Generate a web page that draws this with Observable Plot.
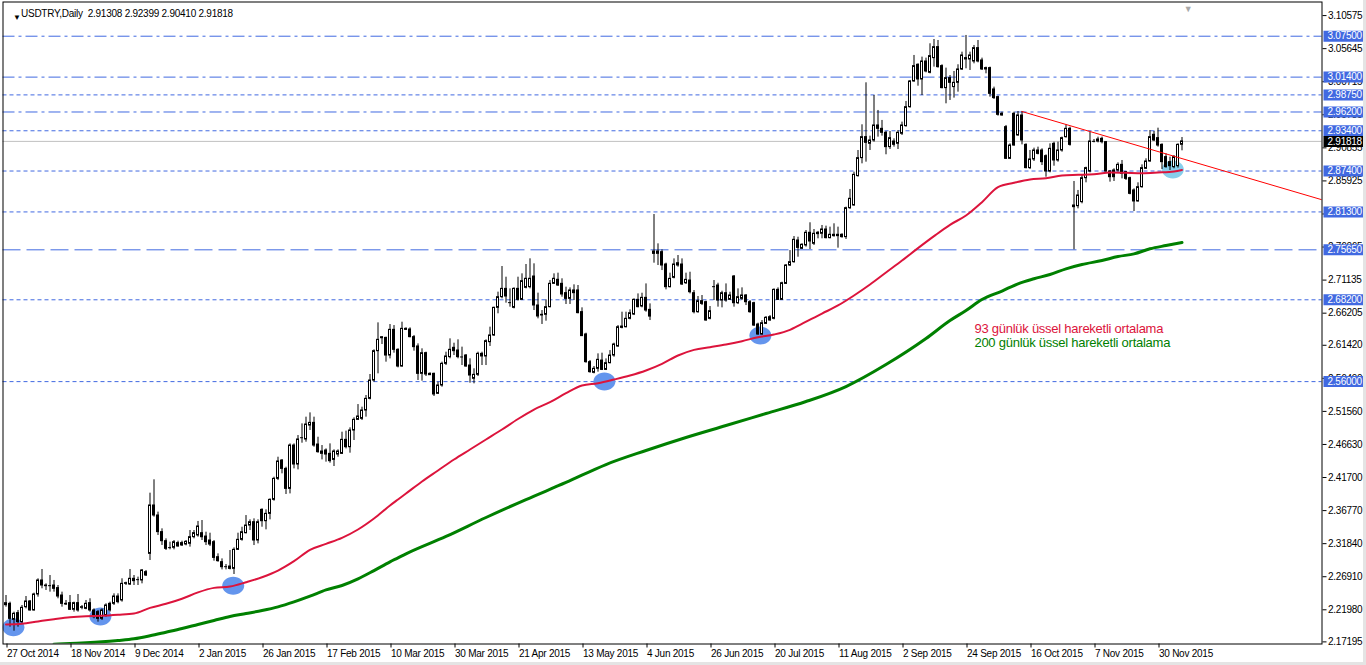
<!DOCTYPE html>
<html>
<head>
<meta charset="utf-8">
<script src="https://cdn.jsdelivr.net/npm/d3@7"></script>
<script src="https://cdn.jsdelivr.net/npm/@observablehq/plot@0.6"></script>
<style>
html,body{margin:0;padding:0;background:#e4e4e4;}
#chart{position:relative;width:1363px;height:662px;background:#fff;overflow:hidden;}
#chart svg{display:block;}
</style>
</head>
<body>
<div id="chart"></div>
<script>
// ---- Candles (bar index 0..294), USDTRY daily ----
const open = [2.2267,2.2287,2.2048,2.2148,2.2014,2.2237,2.2322,2.2188,2.2426,2.2635,
2.2560,2.2560,2.2560,2.2521,2.2411,2.2287,2.2297,2.2198,2.2297,2.2227,
2.2212,2.2297,2.2188,2.2163,2.2063,2.2113,2.2287,2.2287,2.2396,2.2337,
2.2585,2.2575,2.2660,2.2645,2.2635,2.2759,2.3032,2.3753,2.3604,2.3356,
2.3221,2.3122,2.3122,2.3192,2.3192,2.3172,2.3182,2.3281,2.3306,2.3340,
2.3290,2.3231,2.3206,2.2982,2.2908,2.2843,2.2843,2.2808,2.3092,2.3241,
2.3340,2.3454,2.3504,2.3231,2.3688,2.3519,2.3628,2.3837,2.4150,2.4423,
2.4299,2.4001,2.4647,2.4364,2.4761,2.4737,2.4945,2.4985,2.4662,2.4523,
2.4573,2.4523,2.4433,2.4513,2.4523,2.4732,2.4622,2.4871,2.5030,2.5045,
2.5169,2.5343,2.5616,2.6054,2.6247,2.6252,2.5989,2.6372,2.6074,2.5825,
2.6387,2.6377,2.6263,2.6124,2.5716,2.6024,2.5716,2.5716,2.5418,2.5542,
2.5865,2.5965,2.6104,2.6064,2.5965,2.5989,2.5840,2.5642,2.5701,2.6014,
2.5975,2.6188,2.6288,2.6700,2.6859,2.6983,2.6775,2.6700,2.6983,2.6819,
2.6998,2.7008,2.7167,2.6735,2.6596,2.6596,2.6710,2.7058,2.7118,2.7058,
2.6919,2.6834,2.6959,2.6959,2.6636,2.6303,2.5890,2.5731,2.5791,2.5914,
2.5775,2.5875,2.5989,2.6123,2.6401,2.6411,2.6536,2.6600,2.6819,2.6720,
2.6849,2.6670,2.7540,2.7505,2.7530,2.7346,2.7008,2.7147,2.7331,2.7346,
2.7067,2.7107,2.6918,2.6635,2.6799,2.6784,2.6536,2.7018,2.7033,2.6809,
2.6918,2.6819,2.7167,2.6769,2.6834,2.6884,2.6784,2.6769,2.6451,2.6302,
2.6461,2.6560,2.6536,2.6968,2.6819,2.7057,2.7331,2.7381,2.7704,2.7580,
2.7630,2.7819,2.7655,2.7799,2.7804,2.7868,2.7739,2.7769,2.7789,2.7789,
2.7754,2.8186,2.8226,2.8664,2.8932,2.9245,2.9146,2.9195,2.9419,2.9369,
2.9310,2.9096,2.9180,2.9146,2.9295,2.9409,2.9692,3.0075,3.0324,3.0105,
3.0373,3.0204,3.0423,3.0587,3.0304,2.9976,3.0125,2.9991,3.0055,3.0254,
3.0423,3.0403,3.0373,3.0572,3.0388,3.0274,3.0274,2.9956,2.9841,2.9593,
2.9394,2.8922,2.9593,2.9270,2.9568,2.9130,2.8783,2.8912,2.9046,2.9046,
2.8961,2.8733,2.9145,2.8897,2.9046,2.9245,2.9369,2.8201,2.8216,2.8276,
2.8633,2.8733,2.9180,2.9180,2.9220,2.9170,2.8733,2.8748,2.8748,2.8832,
2.8723,2.8633,2.8450,2.8286,2.8499,2.8773,2.8882,2.9280,2.9230,2.9130,
2.8947,2.8872,2.8797,2.8812,2.91308];

const high = [2.2411,2.2312,2.2163,2.2188,2.2262,2.2396,2.2337,2.2446,2.2660,2.2799,
2.2585,2.2709,2.2635,2.2560,2.2461,2.2337,2.2411,2.2312,2.2426,2.2262,
2.2337,2.2362,2.2212,2.2188,2.2212,2.2287,2.2312,2.2436,2.2436,2.2660,
2.2610,2.2799,2.2709,2.2685,2.2799,2.2784,2.3937,2.4136,2.3654,2.3405,
2.3256,2.3206,2.3231,2.3221,2.3221,2.3231,2.3380,2.3380,2.3515,2.3529,
2.3355,2.3340,2.3231,2.3032,2.2957,2.2873,2.3082,2.3121,2.3340,2.3429,
2.3603,2.3539,2.3554,2.3539,2.3703,2.3688,2.3852,2.4175,2.4473,2.4438,
2.4324,2.4672,2.4672,2.4796,2.4970,2.5070,2.5134,2.5070,2.4771,2.4647,
2.4597,2.4672,2.4583,2.4583,2.4846,2.4861,2.4911,2.5060,2.5258,2.5219,
2.5393,2.5706,2.6074,2.6476,2.6272,2.6262,2.6451,2.6436,2.6089,2.6486,
2.6402,2.6402,2.6288,2.6163,2.6089,2.6039,2.5731,2.5726,2.5592,2.5890,
2.6039,2.6238,2.6173,2.6223,2.6114,2.6004,2.5940,2.5791,2.6039,2.6039,
2.6223,2.6412,2.6710,2.6934,2.7316,2.7157,2.6983,2.6998,2.7157,2.7207,
2.7346,2.7431,2.7356,2.6919,2.6660,2.6819,2.7108,2.7207,2.7217,2.7133,
2.7008,2.6998,2.7043,2.7033,2.6700,2.6322,2.5915,2.5825,2.6014,2.6024,
2.5939,2.6063,2.6173,2.6436,2.6635,2.6635,2.6670,2.6834,2.6908,2.6918,
2.7057,2.6759,2.8091,2.7654,2.7564,2.7366,2.7217,2.7430,2.7480,2.7430,
2.7217,2.7231,2.6958,2.6869,2.6884,2.6799,2.6720,2.7107,2.7067,2.6948,
2.7057,2.6933,2.7182,2.6983,2.6998,2.6898,2.6809,2.6784,2.6471,2.6511,
2.6570,2.6585,2.6983,2.6998,2.7082,2.7346,2.7554,2.7763,2.7753,2.7655,
2.7853,2.7968,2.7868,2.7839,2.7928,2.7918,2.7903,2.7953,2.7903,2.7804,
2.8201,2.8465,2.8723,2.9046,2.9429,3.0055,2.9260,2.9866,2.9643,2.9494,
2.9330,2.9330,2.9220,2.9344,2.9469,2.9777,3.0090,3.0463,3.0338,3.0438,
3.0423,3.0637,3.0701,3.0686,3.0324,3.0274,3.0164,3.0224,3.0324,3.0512,
3.0761,3.0512,3.0612,3.0686,3.0423,3.0289,3.0289,2.9991,2.9856,2.9617,
2.9419,2.9145,2.9617,2.9627,2.9627,2.9145,2.9046,2.9081,2.9096,2.9071,
2.8981,2.9145,2.9170,2.9170,2.9245,2.9429,2.9394,2.8584,2.8450,2.8673,
2.8797,2.9319,2.9210,2.9245,2.9245,2.9180,2.8748,2.8773,2.8862,2.8897,
2.8733,2.8648,2.8474,2.8564,2.8832,2.8922,2.9344,2.9329,2.9379,2.9145,
2.8996,2.8947,2.8971,2.9145,2.92399];

const low = [2.2237,2.1939,2.1879,2.1939,2.1979,2.2212,2.2178,2.2178,2.2386,2.2511,
2.2486,2.2461,2.2461,2.2362,2.2237,2.2262,2.2188,2.2163,2.2163,2.2198,
2.2198,2.2163,2.2063,2.2014,2.2038,2.2088,2.2163,2.2262,2.2287,2.2312,
2.2560,2.2560,2.2560,2.2560,2.2585,2.2695,2.2933,2.3579,2.3306,2.3157,
2.3082,2.3092,2.3092,2.3132,2.3142,2.3152,2.3132,2.3256,2.3281,2.3231,
2.3156,2.3141,2.2923,2.2908,2.2793,2.2793,2.2793,2.2724,2.3082,2.3221,
2.3330,2.3380,2.3156,2.3181,2.3429,2.3390,2.3539,2.3817,2.4125,2.4225,
2.3917,2.3926,2.4299,2.4284,2.4682,2.4697,2.4871,2.4622,2.4533,2.4433,
2.4399,2.4384,2.4334,2.4473,2.4513,2.4597,2.4533,2.4722,2.5020,2.5020,
2.5070,2.5328,2.5591,2.5716,2.6153,2.5890,2.5939,2.6024,2.5805,2.5815,
2.6362,2.6253,2.6054,2.5617,2.5607,2.5676,2.5691,2.5378,2.5408,2.5517,
2.5840,2.5940,2.5989,2.5940,2.5840,2.5815,2.5577,2.5567,2.5676,2.5840,
2.5840,2.6124,2.6273,2.6611,2.6834,2.6770,2.6710,2.6685,2.6800,2.6809,
2.6983,2.6983,2.6660,2.6536,2.6452,2.6501,2.6700,2.7048,2.7018,2.6859,
2.6750,2.6750,2.6809,2.6611,2.6273,2.5875,2.5726,2.5716,2.5741,2.5765,
2.5765,2.5865,2.5964,2.6113,2.6387,2.6401,2.6521,2.6585,2.6700,2.6700,
2.6635,2.6511,2.7366,2.7331,2.7256,2.6968,2.6998,2.7132,2.7306,2.7033,
2.7048,2.6908,2.6610,2.6620,2.6734,2.6501,2.6521,2.6809,2.6710,2.6700,
2.6784,2.6809,2.6710,2.6749,2.6809,2.6734,2.6620,2.6421,2.6292,2.6292,
2.6451,2.6501,2.6521,2.6809,2.6809,2.7048,2.7316,2.7366,2.7455,2.7570,
2.7605,2.7570,2.7630,2.7729,2.7729,2.7729,2.7729,2.7754,2.7590,2.7739,
2.7719,2.8167,2.8216,2.8649,2.8847,2.8872,2.9046,2.9170,2.9245,2.9260,
2.8982,2.9061,2.9096,2.9061,2.9270,2.9394,2.9677,3.0065,3.0005,2.9866,
3.0204,3.0189,3.0289,3.0274,2.9966,2.9742,2.9792,2.9827,2.9916,3.0239,
3.0264,3.0239,3.0338,3.0353,3.0239,3.0189,2.9841,2.9807,2.9558,2.9558,
2.8912,2.8912,2.9111,2.9260,2.9130,2.8773,2.8763,2.8882,2.8981,2.8822,
2.8648,2.8713,2.8812,2.8872,2.9021,2.9230,2.9111,2.7566,2.8176,2.8251,
2.8564,2.8713,2.9160,2.9160,2.9145,2.8698,2.8574,2.8584,2.8723,2.8623,
2.8599,2.8385,2.8136,2.8276,2.8484,2.8763,2.8872,2.9180,2.9096,2.8763,
2.8783,2.8748,2.8773,2.8783,2.90410];

const close = [2.2297,2.2063,2.2138,2.2014,2.2227,2.2322,2.2188,2.2426,2.2635,2.2560,
2.2550,2.2555,2.2511,2.2396,2.2287,2.2277,2.2198,2.2297,2.2188,2.2237,
2.2287,2.2188,2.2088,2.2063,2.2188,2.2262,2.2188,2.2396,2.2312,2.2585,
2.2595,2.2660,2.2625,2.2650,2.2784,2.2709,2.3753,2.3604,2.3356,2.3221,
2.3107,2.3127,2.3206,2.3142,2.3157,2.3211,2.3281,2.3341,2.3440,2.3280,
2.3206,2.3171,2.2972,2.2923,2.2833,2.2838,2.2808,2.3092,2.3241,2.3355,
2.3454,2.3504,2.3231,2.3504,2.3519,2.3628,2.3837,2.4150,2.4409,2.4299,
2.4001,2.4647,2.4364,2.4737,2.4766,2.4960,2.4985,2.4647,2.4548,2.4558,
2.4513,2.4414,2.4558,2.4558,2.4732,2.4622,2.4871,2.5030,2.5080,2.5169,
2.5343,2.5616,2.6054,2.6223,2.6262,2.5989,2.6372,2.6074,2.5825,2.6387,
2.6372,2.6263,2.6114,2.5716,2.6024,2.5706,2.5696,2.5408,2.5542,2.5865,
2.5975,2.6074,2.6054,2.5965,2.5970,2.5825,2.5691,2.5701,2.6014,2.5975,
2.6203,2.6288,2.6700,2.6859,2.6983,2.6869,2.6780,2.6983,2.6819,2.7098,
2.7133,2.7133,2.6735,2.6571,2.6586,2.6710,2.7058,2.7133,2.7033,2.6899,
2.6834,2.6959,2.6919,2.6621,2.6278,2.5890,2.5741,2.5791,2.5925,2.5775,
2.5875,2.5989,2.6153,2.6411,2.6421,2.6536,2.6620,2.6819,2.6710,2.6849,
2.6660,2.6570,2.7505,2.7540,2.7331,2.7008,2.7132,2.7346,2.7366,2.7048,
2.7117,2.6933,2.6635,2.6799,2.6759,2.6511,2.6650,2.7013,2.6809,2.6918,
2.6809,2.6884,2.6769,2.6859,2.6884,2.6784,2.6635,2.6436,2.6302,2.6471,
2.6551,2.6511,2.6968,2.6819,2.7067,2.7331,2.7381,2.7714,2.7594,2.7640,
2.7819,2.7689,2.7804,2.7819,2.7868,2.7739,2.7789,2.7789,2.7769,2.7754,
2.8186,2.8326,2.8683,2.8932,2.9245,2.9161,2.9195,2.9419,2.9369,2.9310,
2.9096,2.9230,2.9131,2.9310,2.9419,2.9692,3.0075,3.0304,3.0105,3.0373,
3.0224,3.0453,3.0587,3.0289,2.9976,3.0125,3.0055,3.0055,3.0254,3.0463,
3.0403,3.0463,3.0572,3.0373,3.0254,3.0254,2.9891,2.9827,2.9578,2.9568,
2.8922,2.9120,2.9120,2.9568,2.9195,2.8783,2.8912,2.9046,2.8996,2.8872,
2.8733,2.9071,2.8897,2.9046,2.9230,2.9369,2.9130,2.8226,2.8375,2.8633,
2.8783,2.9180,2.9185,2.9210,2.9170,2.8733,2.8648,2.8648,2.8832,2.8698,
2.8623,2.8400,2.8286,2.8499,2.8783,2.8882,2.9245,2.9195,2.9120,2.8872,
2.8797,2.8812,2.8947,2.9130,2.91818];

// ---- Moving averages (bar index -> value) ----
const ema93Idx = [0,4,8,12,16,20,24,28,32,36,40,44,48,52,56,60,64,68,72,76,80,84,88,92,96,98,100,104,108,112,116,120,124,128,132,136,140,144,148,152,156,160,164,168,172,176,180,184,188,192,196,198,204,208,212,216,220,224,228,232,236,240,244,248,252,256,260,264,268,272,276,280,284,288,292,294];
const ema93Val = [2.1979,2.1989,2.2024,2.2058,2.2088,2.2103,2.2108,2.2123,2.2143,2.2227,
2.2287,2.2362,2.2458,2.2525,2.2545,2.2609,2.2684,2.2783,2.2923,2.3092,
2.3181,2.3271,2.3395,2.3559,2.3753,2.3843,2.3932,2.4111,2.4275,2.4439,
2.4588,2.4737,2.4886,2.5043,2.5184,2.5294,2.5428,2.5542,2.5577,2.5631,
2.5691,2.5766,2.5865,2.5989,2.6073,2.6113,2.6153,2.6203,2.6262,2.6302,
2.6372,2.6431,2.6615,2.6735,2.6884,2.7048,2.7227,2.7405,2.7590,2.7769,
2.7938,2.8077,2.8276,2.8500,2.8564,2.8614,2.8633,2.8673,2.8683,2.8693,
2.8718,2.8713,2.8708,2.8718,2.8733,2.8755];
const ema200Idx = [12,16,20,24,28,32,36,40,44,48,52,56,60,64,68,72,76,80,84,88,92,96,98,100,110,120,130,140,150,160,170,180,190,200,210,220,230,236,240,244,249,253,257,261,265,269,274,278,282,286,290,294];
const ema200Val = [2.1684,2.1696,2.1706,2.1720,2.1740,2.1765,2.1810,2.1864,2.1919,2.1979,
2.2038,2.2098,2.2142,2.2187,2.2242,2.2316,2.2401,2.2495,2.2560,2.2659,
2.2783,2.2913,2.2972,2.3032,2.3291,2.3574,2.3842,2.4096,2.4364,2.4573,
2.4767,2.4945,2.5124,2.5303,2.5527,2.5855,2.6243,2.6511,2.6660,2.6824,
2.6951,2.7058,2.7133,2.7197,2.7282,2.7346,2.7406,2.7465,2.7505,2.7580,
2.7629,2.7674];

// ---- Horizontal levels, trend line, touch-point ellipses, notes ----
const levelPrices = [3.07500,3.01400,2.98750,2.96200,2.93400,2.87400,2.81300,2.75650,2.68200,2.56000];
const levelStyles = ["dashdot","dashdot","dot","dashdot","dot","dot","dot","dash","dot","dot"];
const trendIdx = [254, 329];
const trendPrice = [2.9627, 2.8311];
const ellIdx = [1.85, 23.6, 56.8, 149.6, 188.6, 291.7];
const ellPrice = [2.1938, 2.2098, 2.2555, 2.5602, 2.6287, 2.8762];
const ellColor = ["#6495ed","#6495ed","#6495ed","#6495ed","#6495ed","#87ceeb"];
const noteText = ["93 günlük üssel hareketli ortalama","200 günlük üssel hareketli ortalama"];
const noteIdx = [242.1, 242.1];
const notePrice = [2.6387, 2.6173];
const noteColor = ["#dc143c", "#008000"];

// ---- Axis ticks ----
const yTicks = [3.10575,3.05645,3.00715,2.95785,2.90855,2.85925,2.80995,2.76065,2.71135,2.66205,2.61420,2.56490,2.51560,2.46630,2.41700,2.36770,2.31840,2.26910,2.21980,2.17195];
const dateIdx = [0,16,32,48,64,80,96,112,128,144,160,176,192,208,224,240,256,272,288];
const dateLabels = ["27 Oct 2014","18 Nov 2014","9 Dec 2014","2 Jan 2015","26 Jan 2015","17 Feb 2015","10 Mar 2015","30 Mar 2015","21 Apr 2015","13 May 2015","4 Jun 2015","26 Jun 2015","20 Jul 2015","11 Aug 2015","2 Sep 2015","24 Sep 2015","16 Oct 2015","7 Nov 2015","30 Nov 2015"];

// ---- Build ----
const fmt = d3.format(".5f");
const last = close.length - 1;
const candles = open.map((o, i) => ({i, o, h: high[i], l: low[i], c: close[i]}));
const bodies = candles.filter(d => Math.abs(d.c - d.o) >= 0.0006);
const dojis = candles.filter(d => Math.abs(d.c - d.o) < 0.0006);
const ema93 = ema93Idx.map((i, k) => ({i, v: ema93Val[k]}));
const ema200 = ema200Idx.map((i, k) => ({i, v: ema200Val[k]}));
const trend = trendIdx.map((i, k) => ({i, v: trendPrice[k]}));
const dashes = {dashdot: "12,4,3,4", dot: "4,3", dash: "18,6"};
const BLUE = "#4169e1";
const FONT = '"Liberation Sans",Arial,sans-serif';

const ellipseSym = {draw(ctx) {
  const rx = 11, ry = 9, k = 0.5523;
  ctx.moveTo(rx, 0);
  ctx.bezierCurveTo(rx, ry * k, rx * k, ry, 0, ry);
  ctx.bezierCurveTo(-rx * k, ry, -rx, ry * k, -rx, 0);
  ctx.bezierCurveTo(-rx, -ry * k, -rx * k, -ry, 0, -ry);
  ctx.bezierCurveTo(rx * k, -ry, rx, -ry * k, rx, 0);
  ctx.closePath();
}};
const boxSym = {draw(ctx) {
  ctx.moveTo(-20.5, -5.5); ctx.lineTo(20.5, -5.5); ctx.lineTo(20.5, 5.5); ctx.lineTo(-20.5, 5.5); ctx.closePath();
}};

const marks = [];
for (const style of ["dashdot", "dot", "dash"]) {
  marks.push(Plot.ruleY(levelPrices.filter((p, k) => levelStyles[k] === style),
    {stroke: BLUE, strokeWidth: 1, strokeDasharray: dashes[style]}));
}
marks.push(Plot.ruleY([close[last]], {stroke: "#c0c0c0", strokeWidth: 1}));
ellIdx.forEach((x, k) => {
  marks.push(Plot.dot([k], {x: () => ellIdx[k], y: () => ellPrice[k], symbol: ellipseSym, r: 10,
    fill: ellColor[k], stroke: "none", clip: true}));
});
marks.push(Plot.ruleX(candles, {x: "i", y1: "l", y2: "h", stroke: "black", strokeWidth: 1}));
marks.push(Plot.rect(bodies, {x1: d => d.i - 0.25, x2: d => d.i + 0.25, y1: "o", y2: "c",
  fill: d => d.c >= d.o ? "white" : "black", stroke: "black", strokeWidth: 1}));
marks.push(Plot.ruleY(dojis, {x1: d => d.i - 0.375, x2: d => d.i + 0.375, y: d => (d.o + d.c) / 2,
  stroke: "black", strokeWidth: 1}));
marks.push(Plot.line(ema200, {x: "i", y: "v", stroke: "#008000", strokeWidth: 3, curve: "monotone-x", clip: true}));
marks.push(Plot.line(ema93, {x: "i", y: "v", stroke: "#dc143c", strokeWidth: 2, curve: "monotone-x", clip: true}));
marks.push(Plot.line(trend, {x: "i", y: "v", stroke: "#ff0000", strokeWidth: 1, clip: true}));
noteText.forEach((t, k) => {
  marks.push(Plot.text([t], {x: () => noteIdx[k], y: () => notePrice[k], fill: noteColor[k],
    textAnchor: "start", lineAnchor: "middle", fontSize: 13}));
});
marks.push(Plot.frame({stroke: "black"}));
marks.push(Plot.axisY({anchor: "right", label: null, ticks: yTicks, tickFormat: fmt, tickSize: 4, tickPadding: 2, fontSize: 10}));
marks.push(Plot.axisX({label: null, ticks: dateIdx, tickFormat: d => dateLabels[dateIdx.indexOf(d)], tickSize: 4, tickPadding: 2,
  textAnchor: "start", dx: 1, fontSize: 10}));
marks.push(Plot.dot(levelPrices, {y: d => d, frameAnchor: "right", dx: 22, symbol: boxSym, r: 5, fill: BLUE, stroke: "none"}));
marks.push(Plot.text(levelPrices, {y: d => d, text: d => fmt(d), frameAnchor: "right", dx: 5.5, textAnchor: "start",
  fill: "white", fontSize: 10}));
marks.push(Plot.dot([close[last]], {y: d => d, frameAnchor: "right", dx: 22, symbol: boxSym, r: 5, fill: "black", stroke: "none"}));
marks.push(Plot.text([close[last]], {y: d => d, text: d => fmt(d), frameAnchor: "right", dx: 5.5, textAnchor: "start",
  fill: "white", fontSize: 10}));
const header = `USDTRY,Daily\u00a0\u00a0${fmt(open[last])} ${fmt(high[last])} ${fmt(low[last])} ${fmt(close[last])}`;
marks.push(Plot.text(["\u25BC"], {frameAnchor: "top-left", dx: 10, dy: 12, fontSize: 8, fill: "black"}));
marks.push(Plot.text([header], {frameAnchor: "top-left", dx: 18, dy: 12, textAnchor: "start", lineAnchor: "middle",
  fontSize: 10, fill: "black"}));
marks.push(Plot.text(["\u25BC"], {x: () => close.length + 0.5, frameAnchor: "top", dy: 4, fontSize: 9, fill: "#a8a8a8"}));

const chart = Plot.plot({
  width: 1363,
  height: 662,
  marginLeft: 2.5,
  marginRight: 41.5,
  marginTop: 1.5,
  marginBottom: 18.5,
  style: {fontFamily: FONT, fontSize: "10px", background: "white", color: "black", letterSpacing: "-0.25px"},
  x: {type: "linear", domain: [-0.75, 329]},
  y: {type: "linear", domain: [2.1688, 3.1260]},
  marks
});
document.getElementById("chart").appendChild(chart);
</script>
</body>
</html>
